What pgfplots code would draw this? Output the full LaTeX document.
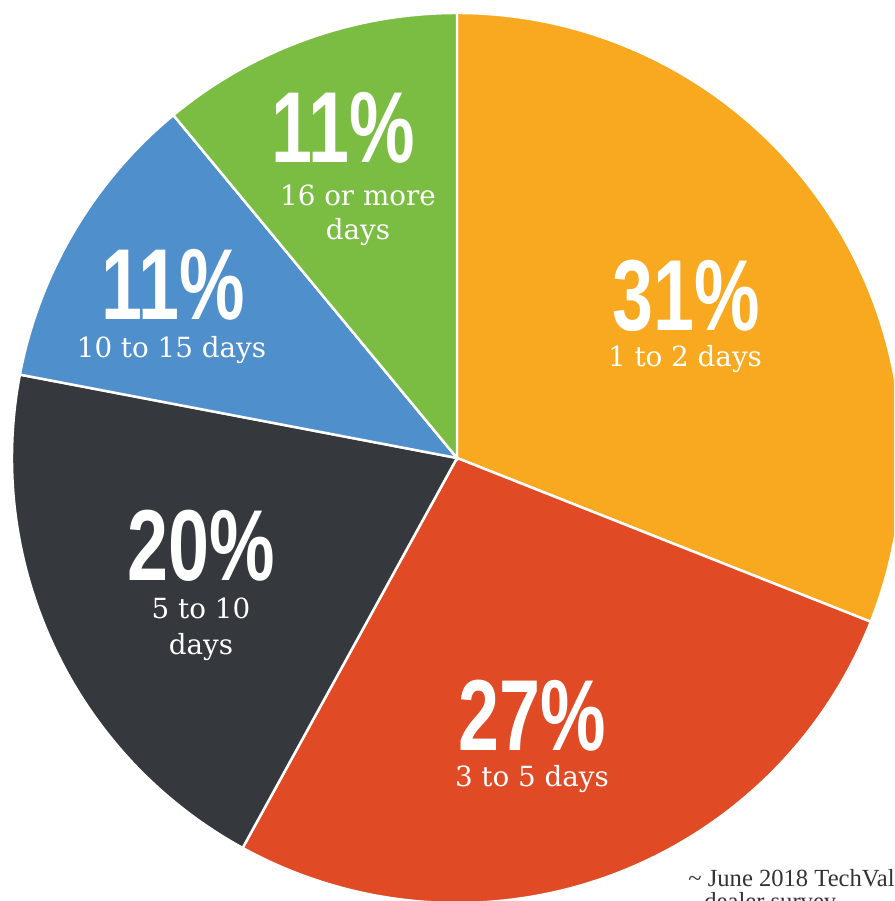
\documentclass[border=0pt]{standalone}
\usepackage{pgfplots}
\pgfplotsset{compat=1.18}
\usepackage{pgfplotstable}
\usepackage{fontspec}
\setmainfont{DejaVu Serif}
\newfontfamily\bigfont{Liberation Sans}
\newfontfamily\notefont{Liberation Serif}
\definecolor{pieorange}{HTML}{F8A91F}
\definecolor{piered}{HTML}{E04B26}
\definecolor{piedark}{HTML}{35383D}
\definecolor{pieblue}{HTML}{4F8FCC}
\definecolor{piegreen}{HTML}{7BBD43}
\definecolor{notegray}{HTML}{333333}
\pgfplotstableread{
pct col
31 pieorange
27 piered
20 piedark
11 pieblue
11 piegreen
}\piedata
\def\piecum{0}
\def\piecmds{}
\pgfplotsforeachungrouped \i in {0,...,4}{%
  \pgfplotstablegetelem{\i}{pct}\of\piedata \let\pv\pgfplotsretval
  \pgfplotstablegetelem{\i}{col}\of\piedata \let\piecol\pgfplotsretval
  \pgfmathsetmacro\sa{90-3.6*\piecum}%
  \pgfmathsetmacro\ea{90-3.6*(\piecum+\pv)}%
  \pgfmathsetmacro\piecum{\piecum+\pv}%
  \edef\piecmds{\unexpanded\expandafter{\piecmds}\noexpand\fill[\piecol, draw=white, line width=0.7pt] (axis cs:0,0) -- (axis cs:{cos(\sa)},{sin(\sa)}) arc[start angle=\sa, end angle=\ea, radius=4.45cm] -- cycle;}%
}
\newcommand\bignum[1]{{\bigfont\bfseries\fontsize{28.7pt}{30pt}\selectfont\scalebox{0.73}[1]{#1}}}
\newcommand\subf{\fontsize{7.9pt}{10.6pt}\selectfont}
\begin{document}
\begin{tikzpicture}
\begin{axis}[
  x=4.45cm, y=4.45cm,
  xmin=-1.02697, xmax=0.98202, ymin=-0.99551, ymax=1.02921,
  hide axis, clip=true, scale only axis,
  every node/.append style={inner sep=0pt, outer sep=0pt},
]
\piecmds
\node[anchor=base, text=white] at (axis cs:0.5146,0.2876) {\bignum{31\%}};
\node[anchor=base, text=white] at (axis cs:0.5124,0.2067) {\subf 1 to 2 days};
\node[anchor=base, text=white] at (axis cs:0.1685,-0.6562) {\bignum{27\%}};
\node[anchor=base, text=white] at (axis cs:0.1685,-0.7393) {\subf 3 to 5 days};
\node[anchor=base, text=white] at (axis cs:-0.5753,-0.2742) {\bignum{20\%}};
\node[anchor=base, text=white] at (axis cs:-0.5753,-0.3596) {\subf 5 to 10};
\node[anchor=base, text=white] at (axis cs:-0.5753,-0.4427) {\subf days};
\node[anchor=base, text=white] at (axis cs:-0.6382,0.3101) {\bignum{11\%}};
\node[anchor=base, text=white] at (axis cs:-0.6416,0.2247) {\subf 10 to 15 days};
\node[anchor=base, text=white] at (axis cs:-0.2562,0.6629) {\bignum{11\%}};
\node[anchor=base, text=white] at (axis cs:-0.2225,0.5685) {\subf 16 or more};
\node[anchor=base, text=white] at (axis cs:-0.2225,0.4899) {\subf days};
\node[anchor=base west, text=notegray] at (axis cs:0.4920,-0.9640) {\notefont\fontsize{7pt}{8pt}\selectfont \textasciitilde{} June 2018 TechValidate};
\node[anchor=base west, text=notegray] at (axis cs:0.5280,-1.0135) {\notefont\fontsize{7pt}{8pt}\selectfont dealer survey};
\end{axis}
\pgfresetboundingbox
\useasboundingbox (current axis.south west) rectangle (current axis.north east);
\end{tikzpicture}
\end{document}
